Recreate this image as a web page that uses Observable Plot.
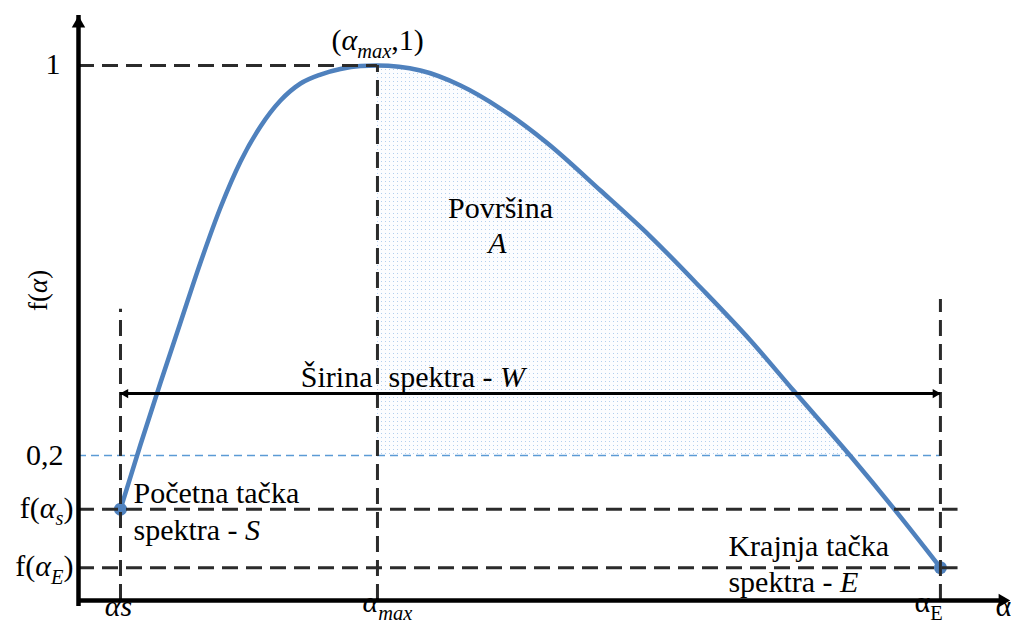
<!DOCTYPE html>
<html>
<head>
<meta charset="utf-8">
<script src="https://cdn.jsdelivr.net/npm/d3@7"></script>
<script src="https://cdn.jsdelivr.net/npm/@observablehq/plot@0.6"></script>
<style>
  html, body { margin: 0; padding: 0; background: white; }
  svg { display: block; }
  svg text { font-family: "Liberation Serif", "DejaVu Serif", "Noto Serif", "Times New Roman", serif !important; }
</style>
</head>
<body>
<div id="chart"></div>
<script>
// ---- data ----
const alphaCurve = [0.0453, 0.0669, 0.0885, 0.1100, 0.1316, 0.1532, 0.1748, 0.1963, 0.2179, 0.2395, 0.2611, 0.2826, 0.3042, 0.3225, 0.3689, 0.4121, 0.4552, 0.5049, 0.5631, 0.6170, 0.6710, 0.7249, 0.7713, 0.8323, 0.8813, 0.9298];
const fCurve     = [0.09,   0.2226, 0.3497, 0.4728, 0.5959, 0.7087, 0.8031, 0.8749, 0.9282, 0.9631, 0.9815, 0.9928, 0.9988, 1.0,    0.9897, 0.9590, 0.9118, 0.8421, 0.7436, 0.6492, 0.5446, 0.4359, 0.3333, 0.2,    0.087,  -0.03];

const alphaS = 0.0453, alphaMax = 0.3225, alphaE = 0.9298;
const fS = 0.09, fE = -0.03, fMax = 1, fRef = 0.2, fW = 0.327;
const yMin = -0.0974, yMax = 1.1026;

const yTickLabels = ["1", "0,2", "f(<i>α</i><sub><i>s</i></sub>)", "f(<i>α</i><sub><i>E</i></sub>)"];
const xTickLabels = ["<i>αs</i>", "<i>α</i><sub><i>max</i></sub>", "α<sub>E</sub>", "α"];
const yTitle = "f(<i>α</i>)";
const peakLabel = "(<i>α</i><sub><i>max</i></sub>,1)";
const areaLabel = ["Površina", "<i>A</i>"];
const widthLabel = ["Širina", "spektra - <i>W</i>"];
const startLabel = ["Početna tačka", "spektra - <i>S</i>"];
const endLabel = ["Krajnja tačka", "spektra - <i>E</i>"];

const curve = alphaCurve.map((a, i) => ({a, f: fCurve[i]}));
const shaded = curve.filter(d => d.a >= alphaMax && d.f >= fRef);

const dashColor = "#2b2b2b";
const dash = "16,8";
const blue = "#4f81bd";
const FS = 30;
const serif = "Liberation Serif, DejaVu Serif, Noto Serif, Times New Roman, serif";

const T = (data, opts) => Plot.text(data, {text: d => d, fontFamily: serif, ...opts});

const plot = Plot.plot({
  width: 1011,
  height: 622,
  marginLeft: 78,
  marginRight: 6,
  marginTop: 15,
  marginBottom: 22,
  x: {domain: [0, 1], axis: null},
  y: {domain: [yMin, yMax], axis: null},
  style: {fontFamily: serif, fontSize: FS + "px", background: "white", overflow: "visible"},
  marks: [
    // shaded area A
    Plot.areaY(shaded, {x: "a", y1: fRef, y2: "f", fill: "url(#dots)", curve: "monotone-x"}),
    // 0,2 reference line
    Plot.ruleY([fRef], {x1: 0, x2: alphaE, stroke: "#5b9bd5", strokeWidth: 1.6, strokeDasharray: "8,5"}),
    // curve
    Plot.line(curve, {x: "a", y: "f", stroke: blue, strokeWidth: 4.5, curve: "monotone-x"}),
    Plot.dot([{a: alphaS, f: fS}, {a: alphaE, f: fE}], {x: "a", y: "f", r: 6.5, fill: blue, stroke: "none"}),
    // dashed guides
    Plot.ruleY([fMax], {x1: 0, x2: alphaMax, stroke: dashColor, strokeWidth: 3, strokeDasharray: dash}),
    Plot.ruleY([fS, fE], {x1: 0, x2: alphaE + 0.019, stroke: dashColor, strokeWidth: 3, strokeDasharray: dash}),
    Plot.ruleX([alphaS], {y1: yMin, y2: 0.50, stroke: dashColor, strokeWidth: 3, strokeDasharray: dash}),
    Plot.ruleX([alphaMax], {y1: yMin, y2: fMax, stroke: dashColor, strokeWidth: 3, strokeDasharray: dash}),
    Plot.ruleX([alphaE], {y1: yMin, y2: 0.52, stroke: dashColor, strokeWidth: 3, strokeDasharray: dash}),
    // width W arrow
    Plot.ruleY([fW], {x1: alphaS, x2: alphaE, stroke: "black", strokeWidth: 3}),
    Plot.dot([alphaS], {x: d => d, y: fW, symbol: "triangle", rotate: -90, r: 3.5, dx: 5, fill: "black", stroke: "none"}),
    Plot.dot([alphaE], {x: d => d, y: fW, symbol: "triangle", rotate: 90, r: 3.5, dx: -5, fill: "black", stroke: "none"}),
    // axes
    Plot.ruleX([0], {y1: yMin, y2: yMax, insetTop: 6, stroke: "black", strokeWidth: 4.5}),
    Plot.ruleY([yMin], {x1: 0, x2: 1, stroke: "black", strokeWidth: 4.5}),
    Plot.dot([0], {x: d => d, y: yMax, symbol: "triangle", r: 5, dy: 8, fill: "black", stroke: "none"}),
    Plot.dot([1], {x: d => d, y: yMin, symbol: "triangle", rotate: 90, r: 5, dx: -3, fill: "black", stroke: "none"}),
    // y tick labels
    T([yTickLabels[0]], {x: 0, y: fMax, textAnchor: "end", dx: -18, dy: -1}),
    T([yTickLabels[1]], {x: 0, y: fRef, textAnchor: "end", dx: -15}),
    T([yTickLabels[2]], {x: 0, y: fS, textAnchor: "end", dx: -5, dy: -1}),
    T([yTickLabels[3]], {x: 0, y: fE, textAnchor: "end", dx: -5, dy: -1}),
    // y title
    T([yTitle], {frameAnchor: "left", rotate: -90, dx: -40, dy: 3, fontSize: 27}),
    // x tick labels
    T([xTickLabels[0]], {x: alphaS, y: yMin, dx: -2, dy: 6}),
    T([xTickLabels[1]], {x: alphaMax, y: yMin, textAnchor: "start", dx: -15, dy: 2}),
    T([xTickLabels[2]], {x: alphaE, y: yMin, textAnchor: "start", dx: -26, dy: 2}),
    T([xTickLabels[3]], {x: 1, y: yMin, textAnchor: "start", dx: -10, dy: 6}),
    // peak label
    T([peakLabel], {x: alphaMax, y: fMax, textAnchor: "start", dx: -46, dy: -25}),
    // area label
    T([areaLabel[0]], {x: alphaMax, y: fMax, dx: 123, dy: 143}),
    T([areaLabel[1]], {x: alphaMax, y: fMax, dx: 120, dy: 178}),
    // width label
    T([widthLabel[0]], {x: alphaMax, y: fW, textAnchor: "end", dx: -5, dy: -16}),
    T([widthLabel[1]], {x: alphaMax, y: fW, textAnchor: "start", dx: 11, dy: -16}),
    // start label
    T([startLabel[0]], {x: alphaS, y: fS, textAnchor: "start", dx: 13, dy: -16}),
    T([startLabel[1]], {x: alphaS, y: fS, textAnchor: "start", dx: 13, dy: 21}),
    // end label
    T([endLabel[0]], {x: alphaE, y: fE, textAnchor: "start", dx: -212, dy: -21}),
    T([endLabel[1]], {x: alphaE, y: fE, textAnchor: "start", dx: -212, dy: 15})
  ]
});

const ns = "http://www.w3.org/2000/svg";
const defs = document.createElementNS(ns, "defs");
const pat = document.createElementNS(ns, "pattern");
pat.setAttribute("id", "dots");
pat.setAttribute("width", 4);
pat.setAttribute("height", 4);
pat.setAttribute("patternUnits", "userSpaceOnUse");
const bg = document.createElementNS(ns, "rect");
bg.setAttribute("width", 4); bg.setAttribute("height", 4); bg.setAttribute("fill", "#fcfdff");
const dot = document.createElementNS(ns, "rect");
dot.setAttribute("x", 1); dot.setAttribute("y", 1);
dot.setAttribute("width", 1); dot.setAttribute("height", 1);
dot.setAttribute("fill", "#b3cfee");
pat.appendChild(bg); pat.appendChild(dot);
defs.appendChild(pat);
plot.insertBefore(defs, plot.firstChild);

document.getElementById("chart").appendChild(plot);

// rich text: italics and subscripts as tspans
plot.querySelectorAll("text").forEach(t => {
  const s = t.textContent;
  if (!s.includes("<")) return;
  const fs = parseFloat(getComputedStyle(t).fontSize) || FS;
  t.textContent = "";
  let italic = false, sub = false, shifted = false;
  const re = /<(\/?)(i|sub)>|([^<]+)/g;
  let m;
  while ((m = re.exec(s))) {
    if (m[2]) { const on = !m[1]; if (m[2] === "i") italic = on; else sub = on; continue; }
    const ts = document.createElementNS(ns, "tspan");
    ts.textContent = m[3];
    if (italic) ts.setAttribute("font-style", "italic");
    if (sub) {
      ts.setAttribute("font-size", (fs * 0.68).toFixed(1));
      if (!shifted) { ts.setAttribute("dy", (fs * 0.25).toFixed(1)); shifted = true; }
    } else if (shifted) {
      ts.setAttribute("dy", (-fs * 0.25).toFixed(1)); shifted = false;
    }
    t.appendChild(ts);
  }
});
</script>
</body>
</html>
